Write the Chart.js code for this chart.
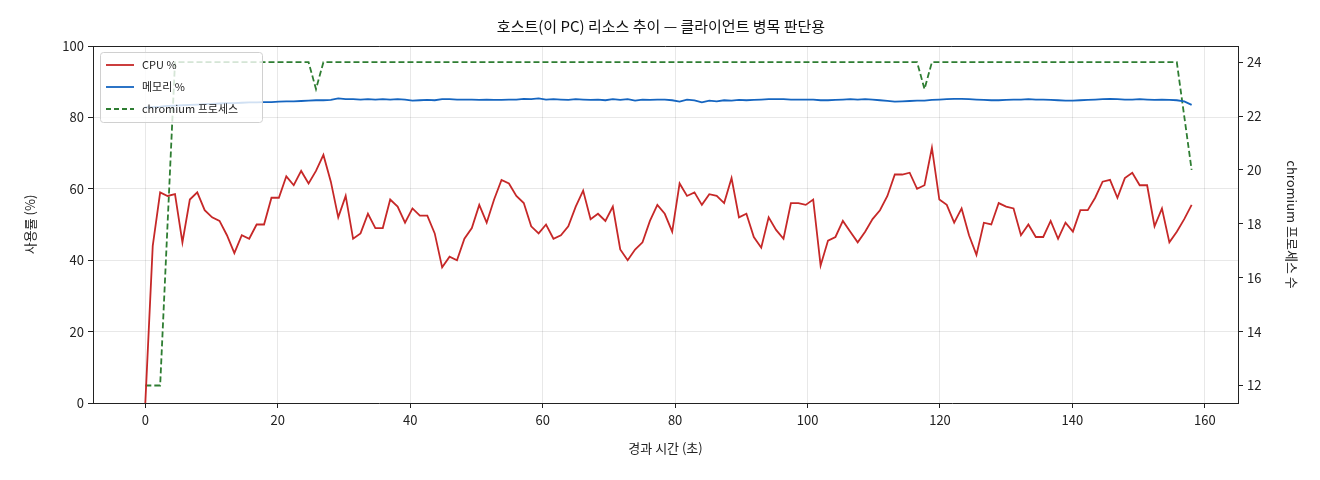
<!DOCTYPE html>
<html><head><meta charset="utf-8">
<script src="https://cdn.jsdelivr.net/npm/chart.js@4"></script>
<style>html,body{margin:0;padding:0;background:#fff}#w{width:1320px;height:480px}</style>
</head><body><div id="w"><canvas id="c"></canvas></div>
<script>
const SAMPLE_INTERVAL = 158/141;
const cpuPct = [0,44,59,58,58.5,45,57,59,54,52,
51,47,42,47,46,50,50,57.5,57.5,63.5,
61,65,61.5,65,69.5,62,52,58,46,47.5,
53,49,49,57,55,50.5,54.5,52.5,52.5,47.5,
38,41,40,46,49,55.5,50.5,57,62.5,61.5,
58,56,49.5,47.5,50,46,47,49.5,55,59.5,
51.5,53,51,55,43,40,43,45,51,55.5,
53,48,61.5,58,59,55.5,58.5,58,56,63,
52,53,46.5,43.5,52,48.5,46,56,56,55.5,
57,38.5,45.5,46.5,51,48,45,48,51.5,54,
58,64,64,64.5,60,61,71.5,57,55.5,50.5,
54.5,47,41.5,50.5,50,56,55,54.5,47,50,
46.5,46.5,51,46,50.5,48,54,54,57.5,62,
62.5,57.5,63,64.5,61,61,49.5,54.5,45,48,
51.5,55.5];
const memPct = [82.8,82.9,83.0,83.2,83.3,83.4,83.5,83.6,83.7,83.8,
83.9,84.0,84.0,84.1,84.2,84.2,84.3,84.3,84.4,84.5,
84.5,84.6,84.7,84.8,84.8,84.9,85.3,85.1,85.1,85.0,
85.1,85.0,85.1,85.0,85.1,85.0,84.7,84.8,84.9,84.8,
85.1,85.1,85.0,85.0,85.0,84.9,85.0,84.9,84.9,85.0,
85.0,85.2,85.1,85.3,85.0,85.1,85.0,84.9,85.1,85.0,
84.9,85.0,84.8,85.1,84.9,85.1,84.7,85.0,84.9,85.0,
85.0,84.8,84.4,85.0,84.8,84.2,84.7,84.5,84.8,84.7,
84.9,84.8,84.9,85.0,85.1,85.1,85.1,85.0,85.0,85.0,
85.0,84.8,84.8,84.9,85.0,85.1,85.0,85.1,85.0,84.8,
84.6,84.4,84.5,84.6,84.7,84.7,84.9,85.0,85.1,85.2,
85.2,85.1,85.0,84.9,84.8,84.8,84.9,85.0,85.0,85.1,
85.0,85.0,84.9,84.8,84.7,84.7,84.8,84.9,85.0,85.1,
85.2,85.1,85.0,85.0,85.1,85.0,84.9,85.0,84.9,84.8,
84.5,83.5];
const procCount = [12,12,12,18,24,24,24,24,24,24,
24,24,24,24,24,24,24,24,24,24,
24,24,24,23,24,24,24,24,24,24,
24,24,24,24,24,24,24,24,24,24,
24,24,24,24,24,24,24,24,24,24,
24,24,24,24,24,24,24,24,24,24,
24,24,24,24,24,24,24,24,24,24,
24,24,24,24,24,24,24,24,24,24,
24,24,24,24,24,24,24,24,24,24,
24,24,24,24,24,24,24,24,24,24,
24,24,24,24,24,23,24,24,24,24,
24,24,24,24,24,24,24,24,24,24,
24,24,24,24,24,24,24,24,24,24,
24,24,24,24,24,24,24,24,24,24,
22,20];
const xTicks = [0,20,40,60,80,100,120,140,160];
const labels = {cpu:'CPU %', mem:'메모리 %', proc:'chromium 프로세스'};

const pts = arr => arr.map((v,i)=>({x:i*SAMPLE_INTERVAL, y:v}));
const FONT = "'Noto Sans CJK KR','DejaVu Sans',sans-serif";
Chart.defaults.font.family = FONT;
Chart.defaults.color = '#222';

const legendBox = {
  id:'legendBox',
  afterDraw(ch){
    const c=ch.ctx; const x=100,y=52,w=162,h=70;
    c.save();
    c.fillStyle='rgba(255,255,255,0.8)'; c.strokeStyle='#d0d0d0'; c.lineWidth=1;
    c.beginPath(); c.roundRect(x+0.5,y+0.5,w,h,3); c.fill(); c.stroke();
    const items=[[labels.cpu,'#c62828',[]],[labels.mem,'#1565c0',[]],[labels.proc,'#2e7d32',[5,3]]];
    c.font="11px "+FONT; c.textBaseline='middle';
    items.forEach((it,i)=>{
      const yy=y+13+i*22;
      c.strokeStyle=it[1]; c.lineWidth=1.8; c.setLineDash(it[2]);
      c.beginPath(); c.moveTo(x+6,yy); c.lineTo(x+34,yy); c.stroke(); c.setLineDash([]);
      c.fillStyle='#222'; c.fillText(it[0],x+42,yy);
    });
    c.restore();
  }
};

new Chart(document.getElementById('c'),{
  type:'line',
  data:{datasets:[
    {label:labels.cpu,data:pts(cpuPct),borderColor:'#c62828',borderWidth:1.8,pointRadius:0,yAxisID:'y',tension:0},
    {label:labels.mem,data:pts(memPct),borderColor:'#1565c0',borderWidth:1.8,pointRadius:0,yAxisID:'y',tension:0},
    {label:labels.proc,data:pts(procCount),borderColor:'#2e7d32',borderWidth:1.8,borderDash:[6,3],pointRadius:0,yAxisID:'y2',tension:0}
  ]},
  options:{
    responsive:true,maintainAspectRatio:false,animation:false,
    layout:{padding:{left:18,right:16,top:0,bottom:20}},
    plugins:{
      legend:{display:false},tooltip:{enabled:false},
      title:{display:true,text:'호스트(이 PC) 리소스 추이 — 클라이언트 병목 판단용',font:{size:15,weight:'normal'},color:'#111',padding:{top:17,bottom:11}}
    },
    scales:{
      x:{type:'linear',min:-7.9,max:165,
        afterBuildTicks(s){s.ticks=xTicks.map(v=>({value:v}));},
        afterFit(s){s.height=57;},
        ticks:{font:{size:13},color:'#222',padding:4},
        grid:{color:'rgba(0,0,0,0.09)',tickColor:'#222',tickLength:5},
        border:{color:'#222'},
        title:{display:true,text:'경과 시간 (초)',font:{size:13},color:'#222',padding:{top:4}}},
      y:{position:'left',min:0,max:100,
        afterBuildTicks(s){s.ticks=[0,20,40,60,80,100].map(v=>({value:v}));},
        afterFit(s){s.width=75;},
        ticks:{font:{size:13},color:'#222',padding:4},
        grid:{color:'rgba(0,0,0,0.09)',tickColor:'#222',tickLength:5},
        border:{color:'#222'},
        title:{display:true,text:'사용률 (%)',font:{size:13},color:'#222'}},
      y2:{position:'right',min:11.35,max:24.6,
        afterBuildTicks(s){s.ticks=[12,14,16,18,20,22,24].map(v=>({value:v}));},
        afterFit(s){s.width=66;},
        ticks:{font:{size:13},color:'#222',padding:4},
        grid:{drawOnChartArea:false,tickColor:'#222',tickLength:5},
        border:{color:'#222'},
        title:{display:true,text:'chromium 프로세스 수',font:{size:13},color:'#222'}}
    }
  },
  plugins:[legendBox,{id:'topBorder',afterDraw(ch){const a=ch.chartArea,c=ch.ctx;c.save();c.strokeStyle='#222';c.lineWidth=1;c.beginPath();c.moveTo(a.left,a.top+0.5);c.lineTo(a.right,a.top+0.5);c.stroke();c.restore();}}]
});
</script></body></html>
